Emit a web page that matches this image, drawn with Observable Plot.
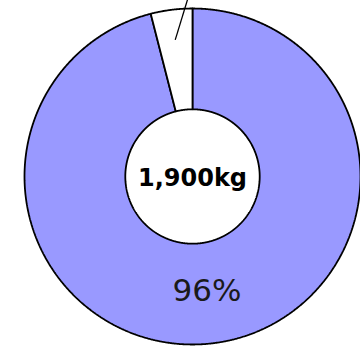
<!DOCTYPE html>
<html>
<head>
<meta charset="utf-8">
<script src="https://cdn.jsdelivr.net/npm/d3@7"></script>
<script src="https://cdn.jsdelivr.net/npm/@observablehq/plot@0.6"></script>
<style>
  body { margin: 0; background: #fff; }
  #chart svg { overflow: hidden; display: block; }
</style>
</head>
<body>
<div id="chart"></div>
<script>
// Donut: share of the 1,900 kg total
const slices = ["main", "other"];
const shares = [96, 4];
const sliceColors = ["#9999ff", "#ffffff"];
const shareLabels = ["96%", null];
const totalLabel = "1,900kg";

const innerR = 0.4, outerR = 1;
const labelR = 0.69, leaderR0 = 0.82, leaderR1 = 1.15;

// angles in degrees, clockwise from 12 o'clock
const polar = (a, r) => ({x: r * Math.sin(a * Math.PI / 180), y: r * Math.cos(a * Math.PI / 180)});

const total = d3.sum(shares);
let acc = 0;
const arcs = slices.map((s, i) => {
  const a0 = acc, a1 = acc + shares[i] / total * 360;
  acc = a1;
  return {slice: s, a0, a1, mid: (a0 + a1) / 2, color: sliceColors[i], label: shareLabels[i]};
});

// ring segment outlines built from the slice angles
const ringPoints = arcs.flatMap(d => {
  const steps = d3.range(d.a0, d.a1, 0.25).concat([d.a1]);
  const outerPts = steps.map(a => ({...polar(a, outerR), slice: d.slice, color: d.color}));
  const innerPts = steps.slice().reverse().map(a => ({...polar(a, innerR), slice: d.slice, color: d.color}));
  return [...outerPts, ...innerPts, outerPts[0]];
});

const valueLabels = arcs.filter(d => d.label).map(d => ({...polar(d.mid, labelR), text: d.label}));

const leaders = arcs.filter(d => !d.label).map(d => {
  const p0 = polar(d.mid, leaderR0), p1 = polar(d.a1, leaderR1);
  return {x1: p0.x, y1: p0.y, x2: p1.x, y2: p1.y};
});

const chart = Plot.plot({
  width: 360,
  height: 352,
  marginLeft: 24,
  marginRight: 0,
  marginTop: 8,
  marginBottom: 8,
  x: {domain: [-1, 1], axis: null},
  y: {domain: [-1, 1], axis: null},
  color: {type: "identity"},
  marks: [
    Plot.line(ringPoints, {x: "x", y: "y", z: "slice", fill: "color", stroke: "black", strokeWidth: 1.8, strokeLinejoin: "miter"}),
    Plot.link(leaders, {x1: "x1", y1: "y1", x2: "x2", y2: "y2", stroke: "black", strokeWidth: 1.3}),
    Plot.text([totalLabel], {x: () => 0, y: () => 0, text: d => d, fontSize: 24, fontWeight: "bold", fontFamily: "DejaVu Sans", fill: "black", dy: 2}),
    Plot.text(valueLabels, {x: "x", y: "y", text: "text", fontSize: 31, fontFamily: "DejaVu Sans", fill: "#1a1a1a"})
  ]
});
document.getElementById("chart").append(chart);
</script>
</body>
</html>
